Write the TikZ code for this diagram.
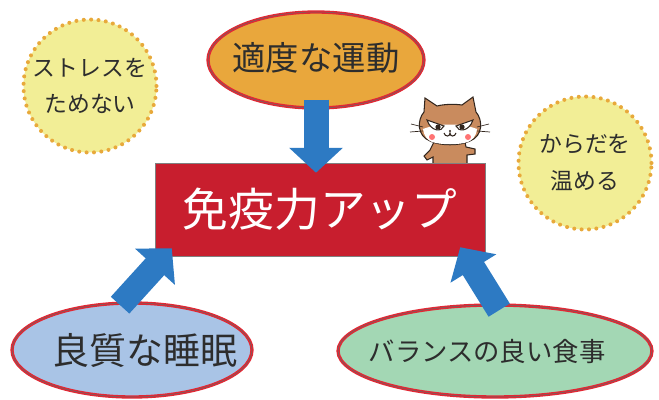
\documentclass[tikz,border=0pt]{standalone}
\usepackage{fontspec}
\newfontfamily\jp{Noto Sans CJK JP}
\usetikzlibrary{shapes.geometric,arrows.meta}

\definecolor{boxred}{RGB}{200,30,46}
\definecolor{exorange}{RGB}{233,167,60}
\definecolor{sleepblue}{RGB}{169,196,230}
\definecolor{mealgreen}{RGB}{163,215,180}
\definecolor{ovalrim}{RGB}{226,40,52}
\definecolor{bubblefill}{RGB}{242,238,150}
\definecolor{bubbledots}{RGB}{232,169,59}
\definecolor{pushblue}{RGB}{45,122,195}
\definecolor{catbrown}{RGB}{201,139,94}
\definecolor{catink}{RGB}{50,38,30}
\definecolor{ink}{RGB}{45,45,45}

\begin{document}
\begin{tikzpicture}[x=0.02cm, y=-0.02cm, font=\jp, text=ink,
  oval/.style={ellipse, inner sep=0pt, draw=ovalrim, line width=1.9pt,
    postaction={draw=black!60, line width=0.3pt}},
  bubble/.style={circle, inner sep=0pt, minimum size=2.66cm, fill=bubblefill,
    draw=bubbledots, line width=2.3pt, dash pattern=on 0pt off 4.2pt, line cap=round,
    align=center, font=\jp\fontsize{13}{21}\selectfont},
  push/.style={line width=0.5cm, draw=pushblue, -{Triangle[length=0.5cm 0 0, width=1.05cm 0 0]}},
  catline/.style={draw=catink, line width=0.6pt}]
\useasboundingbox (0,0) rectangle (659,399);

% hints
\node (stress) at (90,86) [bubble] {ストレスを\\ためない};
\node (warm) at (585,163) [bubble] {からだを\\温める};

% the three habits (zero-width boxes keep the ovals at their set size)
\node (exercise) at (316,60) [oval, fill=exorange, minimum width=4.32cm, minimum height=1.92cm,
  font=\jp\fontsize{19}{19}\selectfont] {\makebox[0pt]{\raisebox{0.16cm}{適度な運動}}};
\node (sleep) at (132,350) [oval, fill=sleepblue, minimum width=4.8cm, minimum height=1.88cm,
  font=\jp\fontsize{21}{21}\selectfont] {\makebox[0pt]{\hspace{0.52cm}良質な睡眠}};
\node (meal) at (495,351) [oval, fill=mealgreen, minimum width=6.28cm, minimum height=1.84cm,
  font=\jp\fontsize{15}{15}\selectfont] {\makebox[0pt]{バランスの良い食事\hspace{0.32cm}}};

% cat sitting on the box
\draw[catline, fill=catbrown] (434,142) -- (430,150) -- (424,156) -- (427,160) -- (433,157) -- (433,165)
  -- (467,165) -- (467,155) -- (475,154) -- (475,149) -- (466,147) -- (465,142) -- cycle;
\draw[catline, fill=catbrown] (424,112) -- (425,98) -- (437,106) .. controls (445,104) and (455,104) .. (462,105)
  -- (473,97) -- (476,112) .. controls (483,120) and (483,136) .. (470,141)
  .. controls (460,146) and (440,146) .. (430,141) .. controls (417,136) and (417,120) .. (424,112) -- cycle;
\fill[white] (423,129) .. controls (438,123) and (462,123) .. (477,129)
  .. controls (476,137) and (472,140) .. (468,142) .. controls (458,145) and (442,145) .. (432,142)
  .. controls (427,140) and (424,136) .. (423,129) -- cycle;
\draw[catline, fill=white] (427,120) -- (444,126) .. controls (442,132) and (431,132) .. (427,120) -- cycle;
\draw[catline, fill=white] (473,120) -- (456,126) .. controls (458,132) and (469,132) .. (473,120) -- cycle;
\fill[catink] (438,127) circle (2.6) (462,127) circle (2.6) (450,131) circle (1.2);
\draw[catline] (444,133) .. controls (445,137) and (450,137) .. (450,133) .. controls (450,137) and (455,137) .. (456,133);
\fill[red!55!white] (432,137) circle (3) (468,137) circle (3);
\draw[catline, line width=0.4pt] (423,127) -- (411,124) (423,131) -- (410,132)
  (477,127) -- (489,124) (477,131) -- (490,132);

% goal
\node (immune) at (320,209.5) [rectangle, fill=boxred, draw=black!50, line width=0.3pt,
  minimum width=6.6cm, minimum height=1.86cm, text=white,
  font=\jp\fontsize{26}{26}\selectfont] {免疫力アップ};

\draw[push, shorten <=-0.2cm, shorten >=-0.2cm] (exercise.south) -- (exercise.south |- immune.north);
\draw[push, shorten <=-0.1cm] (sleep.100) -- ([shift={(17,-8)}]immune.south west);
\draw[push, shorten <=-0.16cm] (meal.north) -- ([shift={(-25,-9)}]immune.south east);
\end{tikzpicture}
\end{document}
